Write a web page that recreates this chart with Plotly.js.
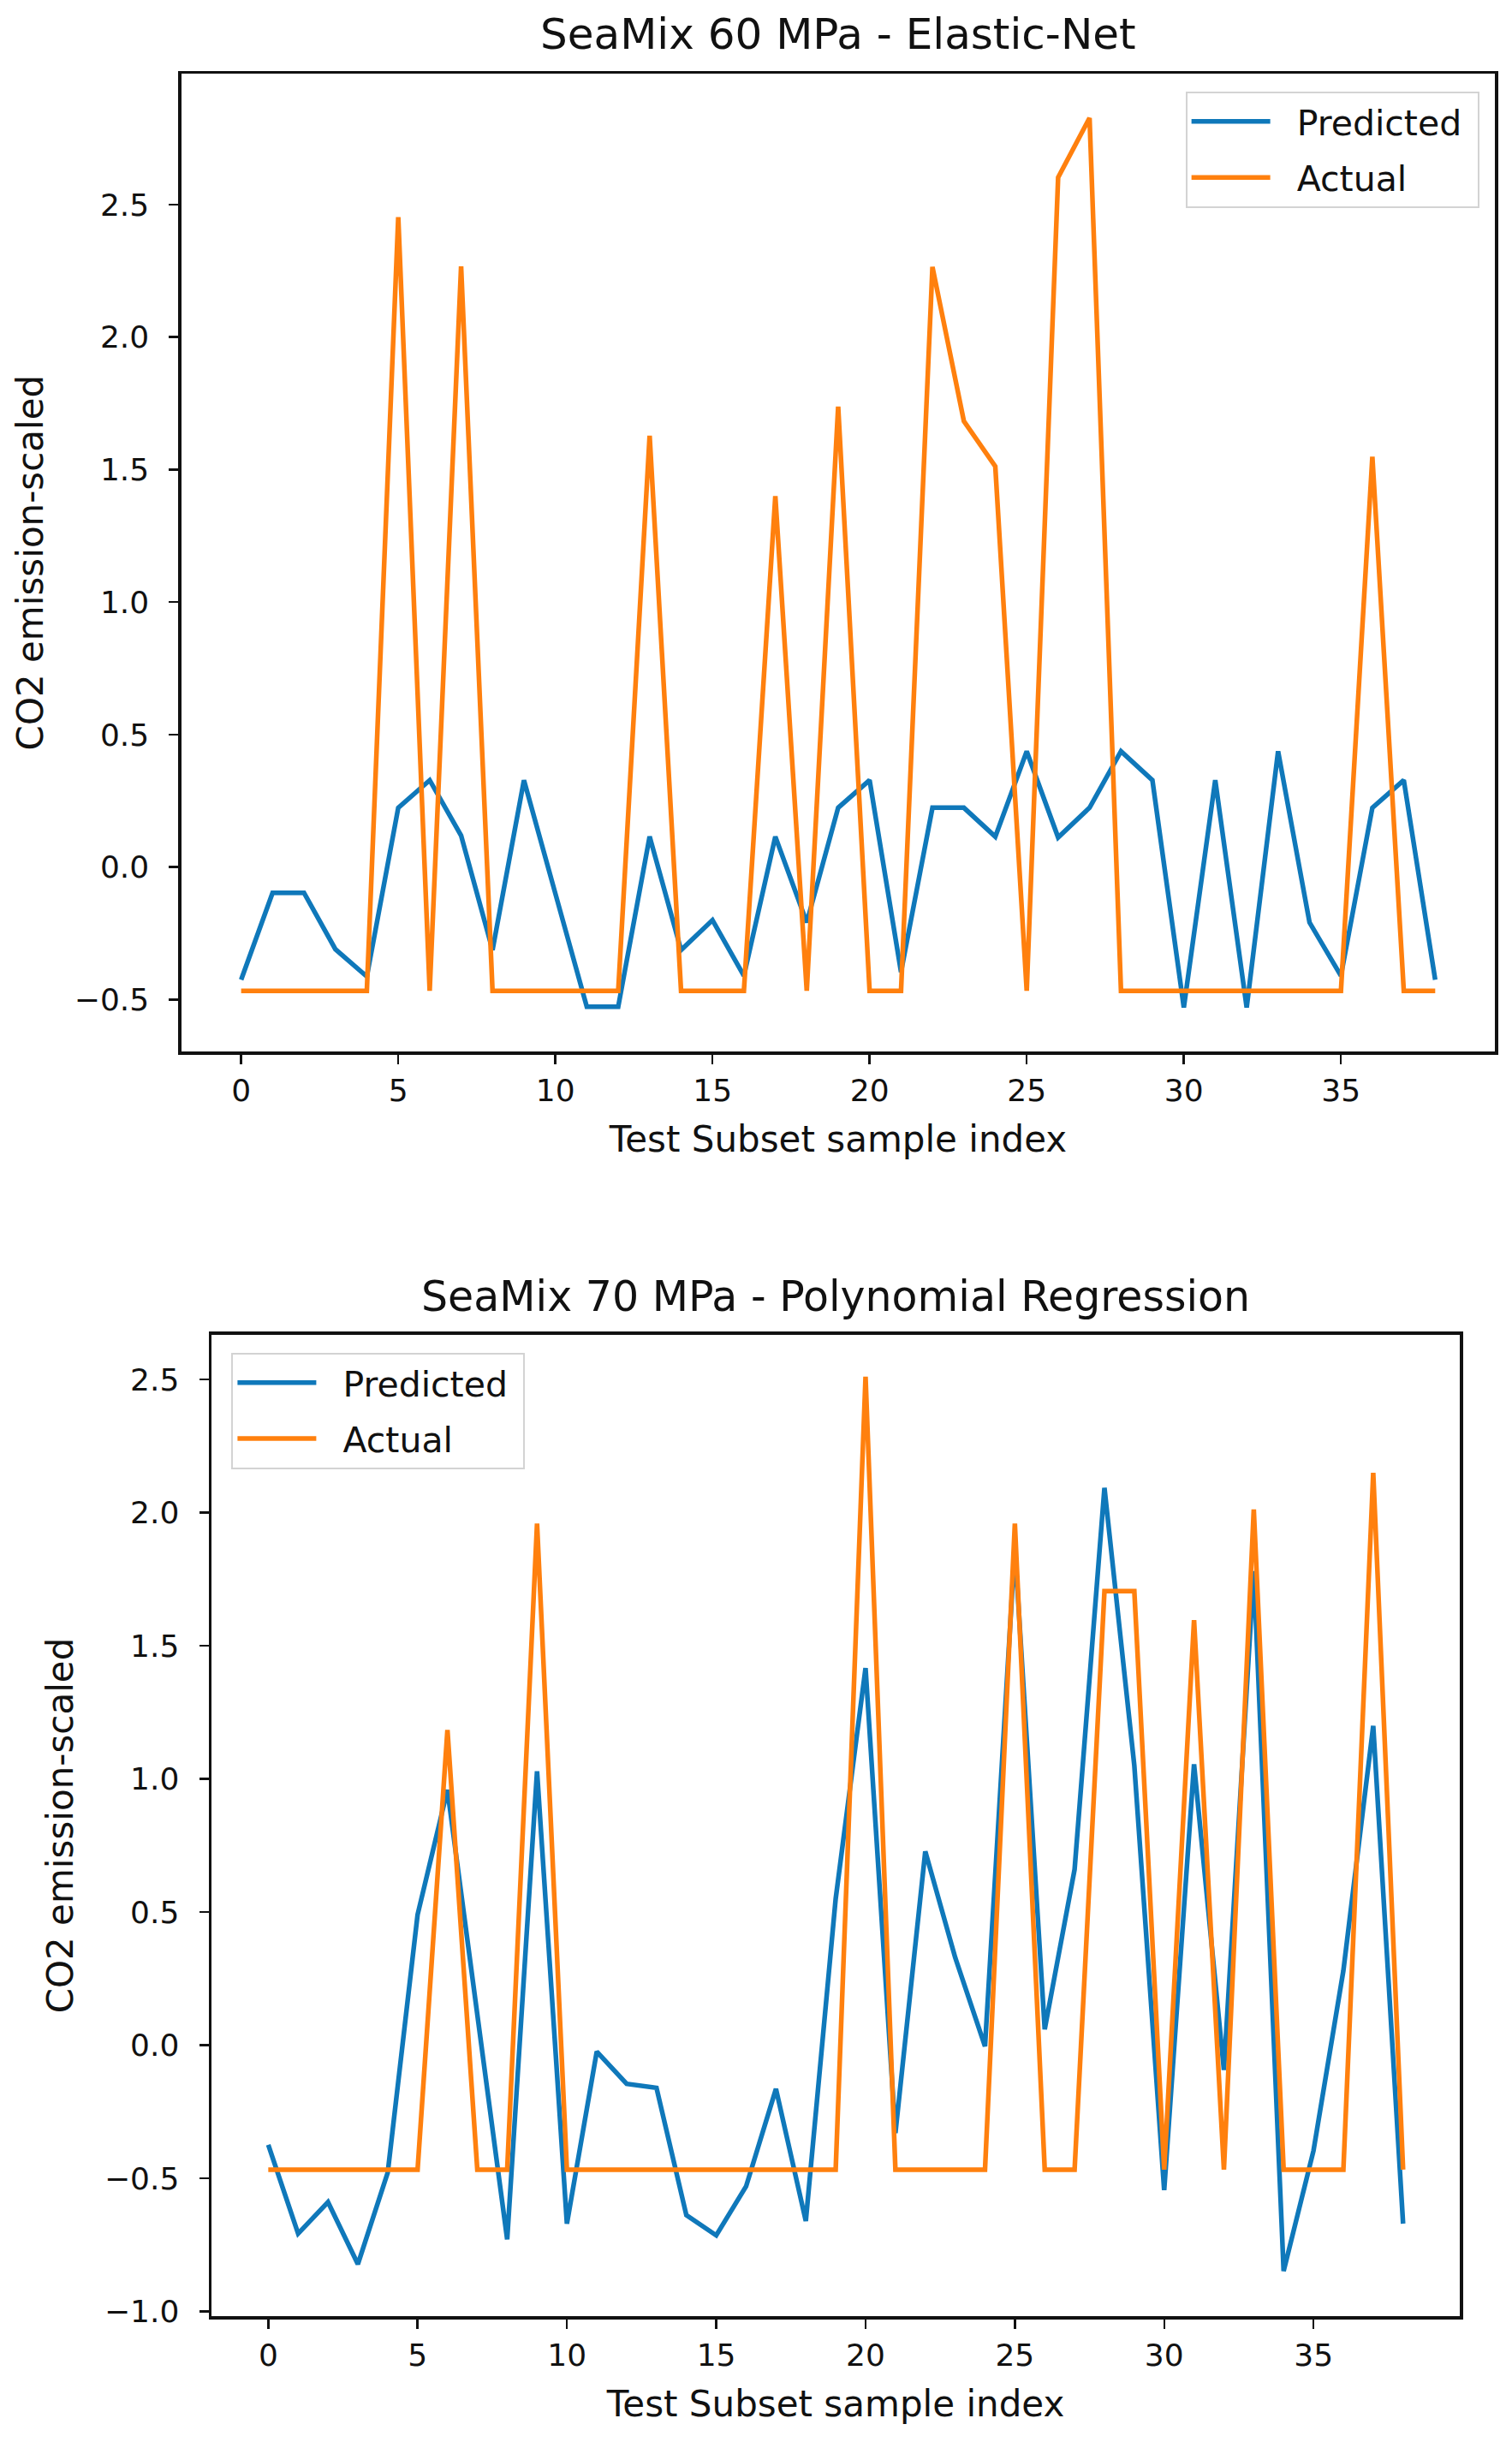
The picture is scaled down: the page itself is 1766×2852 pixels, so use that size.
<!DOCTYPE html>
<html>
<head>
<meta charset="utf-8">
<script src="https://cdn.plot.ly/plotly-3.0.1.min.js"></script>
<style>
  body { margin: 0; background: #fff; }
  #graph { width: 1766px; height: 2852px; }
</style>
</head>
<body>
<div id="graph"></div>
<script>
// sample index on the x axis, same for both panels
const sampleIndex = [0, 1, 2, 3, 4, 5, 6, 7, 8, 9, 10, 11, 12, 13, 14, 15, 16, 17, 18, 19,
    20, 21, 22, 23, 24, 25, 26, 27, 28, 29, 30, 31, 32, 33, 34, 35, 36, 37, 38];

// SeaMix 60 MPa - Elastic-Net
const predicted60 = [-0.425, -0.097, -0.097, -0.31, -0.413, 0.224, 0.328, 0.119, -0.313, 0.328,
    -0.1, -0.527, -0.527, 0.115, -0.313, -0.2, -0.41, 0.115, -0.209, 0.224,
    0.328, -0.396, 0.224, 0.224, 0.115, 0.437, 0.112, 0.224, 0.437, 0.328,
    -0.53, 0.328, -0.53, 0.437, -0.209, -0.41, 0.224, 0.328, -0.425];
const actual60 = [-0.467, -0.467, -0.467, -0.467, -0.467, 2.453, -0.467, 2.267, -0.467, -0.467,
    -0.467, -0.467, -0.467, 1.628, -0.467, -0.467, -0.467, 1.40, -0.467, 1.738,
    -0.467, -0.467, 2.265, 1.683, 1.512, -0.467, 2.603, 2.827, -0.467, -0.467,
    -0.467, -0.467, -0.467, -0.467, -0.467, -0.467, 1.549, -0.467, -0.467];

// SeaMix 70 MPa - Polynomial Regression
const predicted70 = [-0.374, -0.707, -0.589, -0.822, -0.478, 0.49, 0.959, 0.12, -0.729, 1.029,
    -0.67, -0.024, -0.145, -0.16, -0.638, -0.714, -0.53, -0.164, -0.66, 0.55,
    1.416, -0.33, 0.728, 0.33, -0.004, 1.87, 0.06, 0.66, 2.093, 1.05,
    -0.544, 1.055, -0.093, 1.78, -0.848, -0.396, 0.28, 1.199, -0.67];
const actual70 = [-0.467, -0.467, -0.467, -0.467, -0.467, -0.467, 1.184, -0.467, -0.467, 1.959,
    -0.467, -0.467, -0.467, -0.467, -0.467, -0.467, -0.467, -0.467, -0.467, -0.467,
    2.51, -0.467, -0.467, -0.467, -0.467, 1.959, -0.467, -0.467, 1.705, 1.705,
    -0.467, 1.596, -0.467, 2.012, -0.467, -0.467, -0.467, 2.149, -0.467];

const xTickVals = [0, 5, 10, 15, 20, 25, 30, 35];

const BLUE = '#0f78ba';
const ORANGE = '#ff800e';
const FONT = 'DejaVu Sans, Liberation Sans, sans-serif';
const NB = '\u00a0';

function lineTrace(y, name, color, xa, ya, legend) {
    return {
        type: 'scatter',
        mode: 'lines',
        x: sampleIndex,
        y: y,
        name: NB + NB + name + NB,
        legendgroup: name,
        xaxis: xa,
        yaxis: ya,
        legend: legend,
        line: { color: color, width: 5.5 },
        hoverinfo: 'skip'
    };
}

function xAxis(domain, anchor) {
    return {
        domain: domain,
        anchor: anchor,
        range: [-1.9, 39.9],
        tickvals: xTickVals,
        ticks: 'outside',
        ticklen: 11,
        tickwidth: 2.5,
        tickcolor: '#111',
        showgrid: false,
        zeroline: false,
        showline: true,
        mirror: true,
        linecolor: '#111',
        linewidth: 3.5,
        automargin: false,
        tickfont: { family: FONT, size: 36, color: '#111' },
        title: { text: 'Test Subset sample index', font: { family: FONT, size: 42, color: '#111' }, standoff: 24 }
    };
}

function yAxis(domain, anchor, range, tickvals) {
    return {
        domain: domain,
        anchor: anchor,
        range: range,
        tickvals: tickvals,
        tickformat: '.1f',
        ticks: 'outside',
        ticklen: 11,
        tickwidth: 2.5,
        tickcolor: '#111',
        ticklabelstandoff: 16,
        showgrid: false,
        zeroline: false,
        showline: true,
        mirror: true,
        linecolor: '#111',
        linewidth: 3.5,
        automargin: false,
        tickfont: { family: FONT, size: 36, color: '#111' },
        title: { text: 'CO2 emission-scaled', font: { family: FONT, size: 42, color: '#111' }, standoff: 24 }
    };
}

const legendStyle = {
    bgcolor: 'rgba(255,255,255,0.85)',
    bordercolor: '#d3d3d3',
    borderwidth: 2,
    font: { family: FONT, size: 41, color: '#111' },
    itemwidth: 92,
    traceorder: 'grouped',
    tracegroupgap: 9,
    xref: 'paper',
    yref: 'paper',
    yanchor: 'top'
};

const data = [
    lineTrace(predicted60, 'Predicted', BLUE, 'x', 'y', 'legend'),
    lineTrace(actual60, 'Actual', ORANGE, 'x', 'y', 'legend'),
    lineTrace(predicted70, 'Predicted', BLUE, 'x2', 'y2', 'legend2'),
    lineTrace(actual70, 'Actual', ORANGE, 'x2', 'y2', 'legend2')
];

const topX = [0.1200, 0.9887], topY = [0.5694, 0.9698];
const botX = [0.1399, 0.9655], botY = [0.0515, 0.4534];

const layout = {
    width: 1766,
    height: 2852,
    margin: { l: 0, r: 0, t: 0, b: 0 },
    paper_bgcolor: '#fff',
    plot_bgcolor: '#fff',
    font: { family: FONT, color: '#111' },
    showlegend: true,
    xaxis: xAxis(topX, 'y'),
    yaxis: yAxis(topY, 'x', [-0.696, 2.994], [-0.5, 0, 0.5, 1, 1.5, 2, 2.5]),
    xaxis2: xAxis(botX, 'y2'),
    yaxis2: yAxis(botY, 'x2', [-1.0175, 2.6675], [-1, -0.5, 0, 0.5, 1, 1.5, 2, 2.5]),
    // legends sit inside each subplot, placed in paper coords
    legend: Object.assign({}, legendStyle, {
        x: topX[0] + (topX[1] - topX[0]) * 0.988, xanchor: 'right',
        y: topY[0] + (topY[1] - topY[0]) * 0.982
    }),
    legend2: Object.assign({}, legendStyle, {
        x: botX[0] + (botX[1] - botX[0]) * 0.016, xanchor: 'left',
        y: botY[0] + (botY[1] - botY[0]) * 0.982
    }),
    annotations: [
        {
            text: 'SeaMix 60 MPa - Elastic-Net',
            xref: 'paper', yref: 'paper', x: 0.5544, y: 0.986,
            xanchor: 'center', yanchor: 'middle', showarrow: false,
            font: { family: FONT, size: 50, color: '#111' }
        },
        {
            text: 'SeaMix 70 MPa - Polynomial Regression',
            xref: 'paper', yref: 'paper', x: 0.5527, y: 0.4688,
            xanchor: 'center', yanchor: 'middle', showarrow: false,
            font: { family: FONT, size: 49, color: '#111' }
        }
    ]
};

Plotly.newPlot('graph', data, layout, { staticPlot: true, displayModeBar: false });
</script>
</body>
</html>
